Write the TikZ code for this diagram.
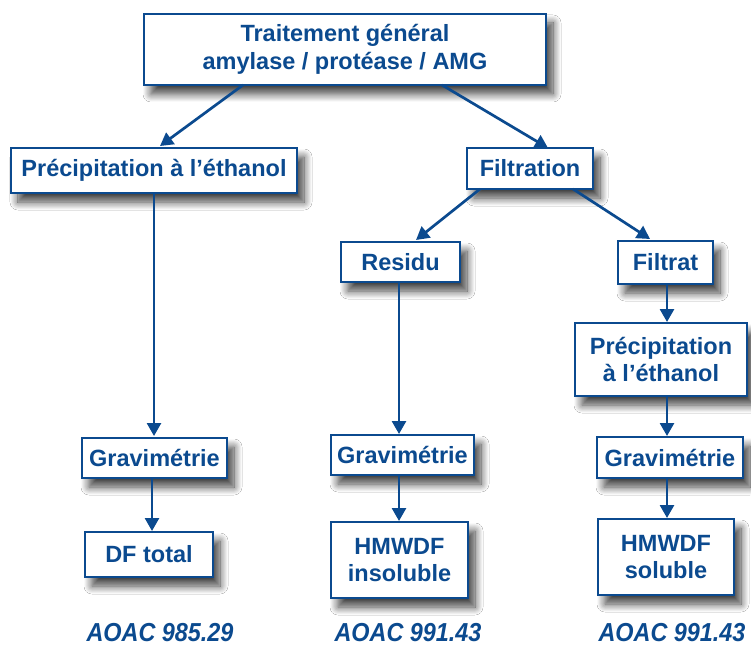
\documentclass[tikz,border=0pt]{standalone}
\usepackage{fontspec}
\setmainfont{Liberation Sans}
\usetikzlibrary{arrows.meta,shadows.blur}
\definecolor{dblue}{HTML}{0B4A8F}
\begin{document}
\begin{tikzpicture}[x=1pt,y=-1pt,
  box/.style={draw=dblue, line width=2.7pt, fill=white, text=dblue, font=\bfseries\fontsize{23.5}{27.5}\selectfont,
     align=center, inner sep=0pt,
     blur shadow={shadow xshift=7pt, shadow yshift=-9pt, shadow blur radius=8pt, shadow blur steps=12, shadow opacity=75}},
  conn/.style={draw=dblue, line width=2.7pt, -{Triangle[length=13pt,width=14pt]}},
  ref/.style={text=dblue, font=\bfseries\itshape\fontsize{26}{30}\selectfont, anchor=base, inner sep=0pt}]
\useasboundingbox[fill=white] (0,0) rectangle (751,647);
\node[box, minimum width=402pt, minimum height=71pt] (top) at (345,49.5) {Traitement général\\amylase / protéase / AMG};
\node[box, minimum width=286pt, minimum height=45pt] (pl) at (154,170.5) {Précipitation à l’éthanol};
\node[box, minimum width=126pt, minimum height=41pt] (fil) at (530,168.5) {Filtration};
\node[box, minimum width=119pt, minimum height=40pt] (res) at (400.5,262) {Residu};
\node[box, minimum width=95pt, minimum height=43pt] (frat) at (665.5,262.5) {Filtrat};
\node[box, minimum width=172pt, minimum height=73pt] (pr) at (661,359.5) {Précipitation\\à l’éthanol};
\node[box, minimum width=145pt, minimum height=40pt] (g1) at (154.5,458) {Gravimétrie};
\node[box, minimum width=143pt, minimum height=40pt] (g2) at (402.5,455) {Gravimétrie};
\node[box, minimum width=146pt, minimum height=41pt] (g3) at (670,457.5) {Gravimétrie};
\node[box, minimum width=128pt, minimum height=45pt] (d1) at (149,554.5) {DF total};
\node[box, minimum width=137pt, minimum height=76pt] (d2) at (399.5,560) {HMWDF\\insoluble};
\node[box, minimum width=136pt, minimum height=76pt] (d3) at (666,557) {HMWDF\\soluble};
\node[ref] (r1) at (160,641) {\scalebox{0.9}[1]{AOAC 985.29}};
\node[ref] (r2) at (408,641) {\scalebox{0.9}[1]{AOAC 991.43}};
\node[ref] (r3) at (672,641) {\scalebox{0.9}[1]{AOAC 991.43}};
\coordinate (t1) at (243,85);
\coordinate (t2) at (442,85);
\coordinate (f1) at (480,189);
\coordinate (f2) at (573,189);
\draw[conn] (t1) -- (160,146);
\draw[conn] (t2) -- (548,148);
\draw[conn] (f1) -- (416,240);
\draw[conn] (f2) -- (650,239);
\draw[conn] (pl.south -| 154,0) -- (154,436);
\draw[conn] (res.south -| 399,0) -- (399,434);
\draw[conn] (frat.south -| 667,0) -- (667,322);
\draw[conn] (pr.south -| 667,0) -- (667,436);
\draw[conn] (g1.south -| 152,0) -- (152,531);
\draw[conn] (g2.south -| 399,0) -- (399,521);
\draw[conn] (g3.south -| 667,0) -- (667,518);
\end{tikzpicture}
\end{document}
